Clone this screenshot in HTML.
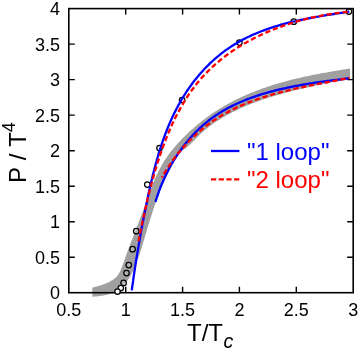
<!DOCTYPE html><html><head><meta charset="utf-8"><title>plot</title><style>
html,body{margin:0;padding:0;background:#fff}
body{width:360px;height:349px;position:relative;overflow:hidden;font-family:"Liberation Sans",sans-serif;color:#000}
.t{position:absolute;white-space:nowrap;line-height:1}
#w{position:absolute;left:0;top:0;width:360px;height:349px;will-change:transform}
.yt{font-size:18px;text-align:right;width:60px;left:0;height:18px;margin-top:-8.3px}
.yt span{display:inline-block}
.xt{font-size:18px;text-align:center;width:60px;margin-left:-30px;top:300.5px}
.leg{font-size:24px;left:247px}
</style></head><body><div id="w">
<svg width="360" height="349" viewBox="0 0 360 349" style="position:absolute;left:0;top:0">
<path d="M92.3,287.6 L94.0,287.2 L95.7,286.7 L97.5,286.3 L99.3,285.7 L101.1,285.2 L102.9,284.5 L104.8,283.9 L106.6,283.1 L108.3,282.4 L110.0,281.5 L111.6,280.5 L113.2,279.5 L114.6,278.4 L116.0,277.2 L117.2,275.9 L118.2,274.5 L119.2,273.0 L120.1,271.4 L120.8,269.8 L121.5,268.1 L122.2,266.4 L122.8,264.7 L123.4,262.9 L124.1,261.2 L124.7,259.4 L125.3,257.7 L125.9,255.9 L126.5,254.2 L127.2,252.4 L127.8,250.7 L128.5,249.0 L129.1,247.3 L129.8,245.5 L130.4,243.8 L131.1,242.1 L131.7,240.4 L132.4,238.7 L133.1,236.9 L133.7,235.2 L134.4,233.5 L135.1,231.8 L135.7,230.1 L136.4,228.4 L137.0,226.6 L137.7,224.9 L138.4,223.2 L139.0,221.5 L139.7,219.8 L140.3,218.1 L141.0,216.3 L141.6,214.6 L142.3,212.9 L142.9,211.2 L143.5,209.4 L144.1,207.7 L144.8,205.9 L145.4,204.2 L146.0,202.5 L146.6,200.7 L147.2,199.0 L147.9,197.2 L148.5,195.5 L149.1,193.8 L149.7,192.0 L150.4,190.3 L151.0,188.6 L151.7,186.9 L152.4,185.2 L153.0,183.4 L153.7,181.7 L154.5,180.1 L155.2,178.4 L155.9,176.7 L156.7,175.0 L157.5,173.4 L158.3,171.7 L159.1,170.1 L159.9,168.5 L160.8,166.9 L161.7,165.3 L162.6,163.7 L163.6,162.1 L164.5,160.6 L165.5,159.0 L166.6,157.5 L167.6,156.0 L168.7,154.5 L169.8,153.1 L170.9,151.6 L172.1,150.1 L173.3,148.7 L174.4,147.3 L175.6,145.9 L176.9,144.5 L178.1,143.1 L179.4,141.8 L180.6,140.4 L181.9,139.1 L183.2,137.7 L184.5,136.4 L185.8,135.1 L187.2,133.9 L188.5,132.6 L189.9,131.3 L191.2,130.1 L192.6,128.9 L194.0,127.6 L195.4,126.4 L196.8,125.3 L198.2,124.1 L199.6,122.9 L201.1,121.8 L202.5,120.6 L204.0,119.5 L205.4,118.4 L206.9,117.3 L208.4,116.2 L209.9,115.2 L211.4,114.1 L212.9,113.1 L214.5,112.1 L216.0,111.1 L217.5,110.1 L219.1,109.1 L220.7,108.1 L222.2,107.2 L223.8,106.3 L225.4,105.3 L227.0,104.4 L228.6,103.5 L230.2,102.7 L231.8,101.8 L233.5,101.0 L235.1,100.1 L236.7,99.3 L238.4,98.5 L240.0,97.7 L241.7,96.9 L243.4,96.2 L245.1,95.4 L246.7,94.7 L248.4,94.0 L250.1,93.2 L251.8,92.5 L253.5,91.9 L255.3,91.2 L257.0,90.5 L258.7,89.9 L260.4,89.2 L262.2,88.6 L263.9,88.0 L265.7,87.4 L267.4,86.8 L269.2,86.2 L270.9,85.7 L272.7,85.1 L274.4,84.5 L276.2,84.0 L278.0,83.5 L279.8,83.0 L281.6,82.4 L283.3,81.9 L285.1,81.5 L286.9,81.0 L288.7,80.5 L290.5,80.0 L292.3,79.6 L294.1,79.1 L295.9,78.7 L297.7,78.3 L299.5,77.9 L301.3,77.4 L303.1,77.0 L304.9,76.6 L306.7,76.2 L308.5,75.9 L310.4,75.5 L312.2,75.1 L314.0,74.7 L315.8,74.4 L317.6,74.0 L319.4,73.7 L321.2,73.3 L323.0,73.0 L324.9,72.7 L326.7,72.4 L328.5,72.0 L330.3,71.7 L332.1,71.4 L333.9,71.1 L335.7,70.8 L337.5,70.5 L339.3,70.2 L341.1,69.9 L342.9,69.6 L344.7,69.4 L346.5,69.1 L348.3,68.8 L350.1,68.5 L350.1,78.3 L348.3,78.7 L346.5,79.1 L344.7,79.5 L342.9,79.9 L341.1,80.3 L339.3,80.6 L337.5,81.0 L335.7,81.4 L333.9,81.8 L332.1,82.1 L330.3,82.5 L328.5,82.9 L326.7,83.3 L324.9,83.7 L323.0,84.0 L321.2,84.4 L319.4,84.8 L317.6,85.2 L315.8,85.6 L314.0,86.0 L312.1,86.4 L310.3,86.8 L308.5,87.2 L306.7,87.6 L304.9,88.0 L303.0,88.4 L301.2,88.8 L299.4,89.3 L297.6,89.7 L295.8,90.1 L294.0,90.6 L292.2,91.0 L290.4,91.5 L288.6,92.0 L286.8,92.4 L285.0,92.9 L283.2,93.4 L281.4,93.9 L279.6,94.4 L277.8,94.9 L276.0,95.4 L274.2,95.9 L272.4,96.5 L270.7,97.0 L268.9,97.6 L267.1,98.2 L265.3,98.7 L263.6,99.3 L261.8,99.9 L260.1,100.5 L258.3,101.2 L256.6,101.8 L254.9,102.4 L253.1,103.1 L251.4,103.8 L249.7,104.4 L248.0,105.1 L246.3,105.8 L244.6,106.6 L242.9,107.3 L241.2,108.1 L239.5,108.8 L237.8,109.6 L236.2,110.4 L234.5,111.2 L232.9,112.0 L231.2,112.9 L229.6,113.7 L228.0,114.6 L226.3,115.5 L224.7,116.4 L223.1,117.3 L221.5,118.3 L220.0,119.2 L218.4,120.2 L216.8,121.2 L215.3,122.3 L213.8,123.3 L212.2,124.4 L210.7,125.5 L209.3,126.6 L207.8,127.7 L206.3,128.9 L204.9,130.1 L203.5,131.3 L202.1,132.5 L200.8,133.8 L199.4,135.1 L198.1,136.4 L196.8,137.8 L195.5,139.1 L194.2,140.4 L192.9,141.8 L191.6,143.1 L190.3,144.3 L188.9,145.6 L187.5,146.8 L186.1,147.9 L184.6,149.0 L183.2,150.1 L181.7,151.2 L180.4,152.4 L179.2,153.7 L178.0,155.0 L176.9,156.4 L175.8,157.9 L174.9,159.5 L173.9,161.0 L173.0,162.7 L172.2,164.3 L171.4,166.0 L170.6,167.7 L169.8,169.4 L169.0,171.1 L168.2,172.8 L167.4,174.5 L166.6,176.2 L165.8,177.9 L165.1,179.6 L164.3,181.3 L163.6,183.0 L162.8,184.7 L162.1,186.4 L161.3,188.1 L160.6,189.8 L159.9,191.5 L159.2,193.2 L158.6,195.0 L157.9,196.7 L157.2,198.4 L156.6,200.1 L156.0,201.9 L155.3,203.6 L154.7,205.4 L154.1,207.1 L153.5,208.9 L153.0,210.6 L152.4,212.4 L151.8,214.1 L151.3,215.9 L150.7,217.7 L150.1,219.4 L149.6,221.2 L149.1,223.0 L148.5,224.7 L148.0,226.5 L147.4,228.3 L146.9,230.1 L146.4,231.9 L145.9,233.6 L145.3,235.4 L144.8,237.2 L144.3,239.0 L143.7,240.8 L143.2,242.6 L142.7,244.4 L142.1,246.2 L141.6,247.9 L141.0,249.7 L140.5,251.5 L139.9,253.3 L139.3,255.0 L138.7,256.8 L138.1,258.5 L137.4,260.3 L136.8,262.0 L136.1,263.7 L135.5,265.4 L134.8,267.1 L134.0,268.8 L133.3,270.5 L132.5,272.1 L131.7,273.7 L130.8,275.3 L129.9,276.9 L128.9,278.4 L127.8,279.9 L126.7,281.3 L125.5,282.7 L124.1,284.1 L122.8,285.4 L121.3,286.7 L119.9,287.9 L118.4,289.1 L116.9,290.2 L115.4,291.2 L113.9,292.2 L112.3,293.0 L110.6,293.7 L108.9,294.3 L107.2,294.7 L105.4,295.1 L103.6,295.5 L101.7,295.7 L99.9,296.0 L98.0,296.2 L96.1,296.4 L94.2,296.6 L92.4,296.8Z" fill="#a0a0a0"/>
<rect x="68.8" y="8.6" width="284.4" height="284.1" fill="none" stroke="#000" stroke-width="1.6"/>
<path d="M125.7,292.7 v-6 M125.7,8.6 v6 M182.6,292.7 v-6 M182.6,8.6 v6 M239.4,292.7 v-6 M239.4,8.6 v6 M296.3,292.7 v-6 M296.3,8.6 v6 M68.8,257.2 h6 M353.2,257.2 h-6 M68.8,221.7 h6 M353.2,221.7 h-6 M68.8,186.2 h6 M353.2,186.2 h-6 M68.8,150.7 h6 M353.2,150.7 h-6 M68.8,115.1 h6 M353.2,115.1 h-6 M68.8,79.6 h6 M353.2,79.6 h-6 M68.8,44.1 h6 M353.2,44.1 h-6" stroke="#000" stroke-width="1.4" fill="none"/>
<circle cx="348.9" cy="11.5" r="2.75" fill="#fff" fill-opacity="0.2" stroke="#000" stroke-width="1.25"/>
<circle cx="293.8" cy="21.7" r="2.75" fill="#fff" fill-opacity="0.2" stroke="#000" stroke-width="1.25"/>
<circle cx="239.4" cy="42.5" r="2.75" fill="#fff" fill-opacity="0.2" stroke="#000" stroke-width="1.25"/>
<circle cx="182.1" cy="100.1" r="2.75" fill="#fff" fill-opacity="0.2" stroke="#000" stroke-width="1.25"/>
<circle cx="159.5" cy="148" r="2.75" fill="#fff" fill-opacity="0.2" stroke="#000" stroke-width="1.25"/>
<circle cx="147.3" cy="184.6" r="2.75" fill="#fff" fill-opacity="0.2" stroke="#000" stroke-width="1.25"/>
<circle cx="136.3" cy="231.2" r="2.75" fill="#fff" fill-opacity="0.2" stroke="#000" stroke-width="1.25"/>
<circle cx="132.6" cy="249.2" r="2.75" fill="#fff" fill-opacity="0.2" stroke="#000" stroke-width="1.25"/>
<circle cx="128.8" cy="265.1" r="2.75" fill="#fff" fill-opacity="0.2" stroke="#000" stroke-width="1.25"/>
<circle cx="126.5" cy="273.1" r="2.75" fill="#fff" fill-opacity="0.2" stroke="#000" stroke-width="1.25"/>
<circle cx="123.6" cy="282.9" r="2.75" fill="#fff" fill-opacity="0.2" stroke="#000" stroke-width="1.25"/>
<circle cx="120.8" cy="288" r="2.75" fill="#fff" fill-opacity="1" stroke="#000" stroke-width="1.25"/>
<circle cx="117.5" cy="291.5" r="2.75" fill="#fff" fill-opacity="1" stroke="#000" stroke-width="1.25"/>
<path d="M131.7,290.3 L132.0,288.3 L132.3,286.4 L132.6,284.4 L132.9,282.4 L133.2,280.4 L133.4,278.4 L133.7,276.4 L134.0,274.5 L134.3,272.5 L134.6,270.5 L134.9,268.6 L135.2,266.6 L135.5,264.6 L135.8,262.7 L136.1,260.7 L136.4,258.8 L136.8,256.8 L137.1,254.8 L137.4,252.9 L137.7,250.9 L138.0,249.0 L138.4,247.0 L138.7,245.1 L139.0,243.1 L139.4,241.2 L139.7,239.2 L140.1,237.3 L140.4,235.4 L140.7,233.4 L141.1,231.5 L141.4,229.5 L141.8,227.6 L142.2,225.6 L142.5,223.7 L142.9,221.7 L143.3,219.8 L143.6,217.9 L144.0,215.9 L144.4,214.0 L144.8,212.0 L145.2,210.1 L145.6,208.1 L146.0,206.2 L146.4,204.2 L146.8,202.3 L147.2,200.3 L147.6,198.4 L148.0,196.4 L148.4,194.5 L148.8,192.5 L149.3,190.6 L149.7,188.6 L150.1,186.7 L150.6,184.7 L151.0,182.8 L151.5,180.8 L152.0,178.8 L152.4,176.9 L152.9,174.9 L153.4,173.0 L153.9,171.1 L154.4,169.1 L154.9,167.2 L155.4,165.2 L155.9,163.3 L156.5,161.4 L157.0,159.4 L157.6,157.5 L158.1,155.6 L158.7,153.6 L159.3,151.7 L159.9,149.8 L160.5,147.9 L161.1,146.0 L161.7,144.1 L162.4,142.2 L163.0,140.3 L163.7,138.4 L164.4,136.6 L165.1,134.7 L165.8,132.8 L166.5,131.0 L167.2,129.1 L168.0,127.3 L168.7,125.4 L169.5,123.6 L170.3,121.8 L171.1,120.0 L171.9,118.2 L172.7,116.4 L173.6,114.6 L174.5,112.8 L175.4,111.0 L176.3,109.2 L177.2,107.5 L178.1,105.7 L179.1,104.0 L180.0,102.3 L181.0,100.6 L182.0,98.8 L183.1,97.2 L184.1,95.5 L185.2,93.8 L186.2,92.1 L187.3,90.5 L188.5,88.8 L189.6,87.2 L190.8,85.6 L191.9,84.0 L193.1,82.4 L194.3,80.8 L195.6,79.3 L196.8,77.7 L198.1,76.2 L199.3,74.7 L200.6,73.2 L202.0,71.7 L203.3,70.3 L204.6,68.8 L206.0,67.4 L207.4,66.0 L208.8,64.6 L210.2,63.2 L211.7,61.8 L213.1,60.5 L214.6,59.2 L216.1,57.9 L217.6,56.6 L219.1,55.4 L220.6,54.1 L222.2,52.9 L223.8,51.7 L225.3,50.5 L227.0,49.4 L228.6,48.3 L230.2,47.1 L231.9,46.1 L233.5,45.0 L235.2,44.0 L236.9,43.0 L238.6,42.0 L240.3,41.0 L242.1,40.1 L243.8,39.1 L245.6,38.2 L247.4,37.3 L249.2,36.5 L251.0,35.6 L252.8,34.8 L254.6,34.0 L256.5,33.2 L258.3,32.5 L260.2,31.7 L262.0,31.0 L263.9,30.3 L265.8,29.6 L267.7,28.9 L269.5,28.3 L271.4,27.7 L273.4,27.0 L275.3,26.4 L277.2,25.9 L279.1,25.3 L281.0,24.7 L283.0,24.2 L284.9,23.7 L286.9,23.2 L288.8,22.7 L290.8,22.2 L292.7,21.7 L294.7,21.3 L296.6,20.8 L298.6,20.4 L300.6,20.0 L302.5,19.6 L304.5,19.2 L306.5,18.8 L308.4,18.4 L310.4,18.0 L312.4,17.6 L314.3,17.3 L316.3,16.9 L318.3,16.6 L320.2,16.2 L322.2,15.9 L324.2,15.6 L326.1,15.2 L328.1,14.9 L330.0,14.6 L332.0,14.3 L333.9,14.0 L335.9,13.7 L337.8,13.4 L339.7,13.1 L341.6,12.8 L343.6,12.5 L345.5,12.2 L347.4,11.9 L349.3,11.5" fill="none" stroke="#0000ff" stroke-width="2.3"/>
<path d="M155.4,202.0 L155.8,200.8 L156.1,199.6 L156.5,198.5 L156.9,197.3 L157.3,196.1 L157.7,195.0 L158.1,193.8 L158.5,192.6 L158.9,191.4 L159.3,190.3 L159.8,189.1 L160.2,188.0 L160.7,186.8 L161.1,185.6 L161.6,184.5 L162.1,183.3 L162.6,182.2 L163.1,181.0 L163.6,179.9 L164.1,178.8 L164.6,177.6 L165.1,176.5 L165.7,175.4 L166.2,174.2 L166.8,173.1 L167.4,172.0 L167.9,170.9 L168.5,169.7 L169.1,168.6 L169.7,167.5 L170.3,166.4 L170.9,165.3 L171.5,164.2 L172.2,163.2 L172.8,162.1 L173.4,161.0 L174.1,159.9 L174.8,158.8 L175.4,157.8 L176.1,156.7 L176.8,155.7 L177.5,154.6 L178.2,153.6 L178.9,152.5 L179.6,151.5 L180.3,150.5 L181.1,149.5 L181.8,148.5 L182.5,147.5 L183.3,146.5 L184.1,145.5 L184.8,144.5 L185.6,143.5 L186.4,142.5 L187.2,141.6 L188.0,140.6 L188.8,139.6 L189.6,138.7 L190.4,137.8 L191.3,136.8 L192.1,135.9 L192.9,135.0 L193.8,134.1 L194.6,133.2 L195.5,132.3 L196.4,131.4 L197.3,130.6 L198.2,129.7 L199.0,128.8 L199.9,128.0 L200.9,127.2 L201.8,126.3 L202.7,125.5 L203.6,124.7 L204.6,123.9 L205.5,123.1 L206.5,122.3 L207.4,121.6 L208.4,120.8 L209.4,120.0 L210.3,119.3 L211.3,118.6 L212.3,117.8 L213.3,117.1 L214.3,116.4 L215.3,115.7 L216.3,115.1 L217.4,114.4 L218.4,113.7 L219.4,113.1 L220.5,112.4 L221.5,111.8 L222.6,111.1 L223.6,110.5 L224.7,109.9 L225.8,109.3 L226.8,108.7 L227.9,108.1 L229.0,107.5 L230.1,107.0 L231.2,106.4 L232.3,105.9 L233.4,105.3 L234.5,104.8 L235.6,104.2 L236.7,103.7 L237.9,103.2 L239.0,102.7 L240.1,102.2 L241.3,101.7 L242.4,101.2 L243.6,100.7 L244.7,100.3 L245.9,99.8 L247.0,99.4 L248.2,98.9 L249.3,98.5 L250.5,98.0 L251.7,97.6 L252.9,97.2 L254.0,96.8 L255.2,96.4 L256.4,96.0 L257.6,95.6 L258.8,95.2 L260.0,94.8 L261.2,94.4 L262.4,94.0 L263.6,93.7 L264.8,93.3 L266.0,93.0 L267.2,92.6 L268.4,92.3 L269.6,91.9 L270.8,91.6 L272.1,91.3 L273.3,91.0 L274.5,90.7 L275.7,90.3 L277.0,90.0 L278.2,89.7 L279.4,89.5 L280.6,89.2 L281.9,88.9 L283.1,88.6 L284.3,88.3 L285.6,88.1 L286.8,87.8 L288.0,87.5 L289.3,87.3 L290.5,87.0 L291.8,86.8 L293.0,86.5 L294.2,86.3 L295.5,86.0 L296.7,85.8 L298.0,85.6 L299.2,85.4 L300.5,85.1 L301.7,84.9 L302.9,84.7 L304.2,84.5 L305.4,84.3 L306.7,84.1 L307.9,83.9 L309.1,83.7 L310.4,83.5 L311.6,83.3 L312.9,83.1 L314.1,82.9 L315.3,82.7 L316.6,82.5 L317.8,82.4 L319.0,82.2 L320.3,82.0 L321.5,81.8 L322.7,81.7 L323.9,81.5 L325.2,81.3 L326.4,81.2 L327.6,81.0 L328.8,80.8 L330.1,80.7 L331.3,80.5 L332.5,80.4 L333.7,80.2 L334.9,80.1 L336.1,79.9 L337.3,79.8 L338.5,79.6 L339.7,79.5 L340.9,79.3 L342.1,79.2 L343.3,79.0 L344.5,78.9 L345.7,78.7 L346.8,78.6 L348.0,78.4 L349.2,78.3" fill="none" stroke="#0000ff" stroke-width="2.3"/>
<path d="M138.4,241.3 L138.8,239.7 L139.1,238.0 L139.5,236.3 L139.8,234.6 L140.2,232.9 L140.5,231.3 L140.9,229.6 L141.2,227.9 L141.6,226.2 L141.9,224.6 L142.3,222.9 L142.6,221.2 L143.0,219.5 L143.4,217.9 L143.7,216.2 L144.1,214.5 L144.5,212.8 L144.8,211.2 L145.2,209.5 L145.6,207.8 L146.0,206.2 L146.4,204.5 L146.8,202.8 L147.2,201.1 L147.5,199.5 L147.9,197.8 L148.4,196.1 L148.8,194.5 L149.2,192.8 L149.6,191.1 L150.0,189.5 L150.4,187.8 L150.9,186.1 L151.3,184.5 L151.8,182.8 L152.2,181.1 L152.7,179.5 L153.1,177.8 L153.6,176.2 L154.0,174.5 L154.5,172.8 L155.0,171.2 L155.5,169.5 L156.0,167.9 L156.5,166.2 L157.0,164.6 L157.5,162.9 L158.1,161.2 L158.6,159.6 L159.1,157.9 L159.7,156.3 L160.2,154.6 L160.8,153.0 L161.4,151.4 L161.9,149.7 L162.5,148.1 L163.1,146.4 L163.7,144.8 L164.3,143.2 L165.0,141.5 L165.6,139.9 L166.2,138.3 L166.9,136.6 L167.5,135.0 L168.2,133.4 L168.9,131.8 L169.6,130.2 L170.3,128.6 L171.0,127.0 L171.7,125.4 L172.4,123.8 L173.2,122.3 L173.9,120.7 L174.7,119.1 L175.4,117.6 L176.2,116.0 L177.0,114.5 L177.8,112.9 L178.6,111.4 L179.5,109.9 L180.3,108.4 L181.1,106.9 L182.0,105.4 L182.9,103.9 L183.8,102.4 L184.7,100.9 L185.6,99.5 L186.5,98.0 L187.4,96.6 L188.4,95.1 L189.3,93.7 L190.3,92.3 L191.3,90.9 L192.3,89.5 L193.3,88.2 L194.3,86.8 L195.4,85.4 L196.4,84.1 L197.5,82.8 L198.6,81.5 L199.7,80.2 L200.8,78.9 L201.9,77.6 L203.1,76.3 L204.2,75.1 L205.4,73.8 L206.6,72.6 L207.8,71.4 L209.0,70.2 L210.2,69.0 L211.4,67.9 L212.7,66.7 L213.9,65.6 L215.2,64.4 L216.5,63.3 L217.8,62.2 L219.1,61.1 L220.4,60.0 L221.7,58.9 L223.1,57.9 L224.4,56.8 L225.8,55.8 L227.2,54.8 L228.5,53.8 L229.9,52.8 L231.3,51.8 L232.8,50.8 L234.2,49.9 L235.6,48.9 L237.1,48.0 L238.5,47.1 L240.0,46.2 L241.4,45.3 L242.9,44.4 L244.4,43.5 L245.9,42.7 L247.4,41.8 L248.9,41.0 L250.4,40.2 L252.0,39.4 L253.5,38.6 L255.0,37.8 L256.6,37.0 L258.2,36.2 L259.7,35.5 L261.3,34.7 L262.9,34.0 L264.4,33.3 L266.0,32.6 L267.6,31.9 L269.2,31.2 L270.8,30.6 L272.4,29.9 L274.1,29.2 L275.7,28.6 L277.3,28.0 L278.9,27.4 L280.6,26.8 L282.2,26.2 L283.9,25.6 L285.5,25.1 L287.2,24.5 L288.8,24.0 L290.5,23.4 L292.1,22.9 L293.8,22.4 L295.5,21.9 L297.1,21.4 L298.8,20.9 L300.5,20.5 L302.2,20.0 L303.9,19.6 L305.5,19.2 L307.2,18.7 L308.9,18.3 L310.6,17.9 L312.3,17.5 L314.0,17.2 L315.7,16.8 L317.3,16.4 L319.0,16.1 L320.7,15.8 L322.4,15.4 L324.1,15.1 L325.8,14.8 L327.5,14.5 L329.2,14.3 L330.9,14.0 L332.6,13.7 L334.2,13.5 L335.9,13.3 L337.6,13.0 L339.3,12.8 L341.0,12.6 L342.7,12.4 L344.3,12.2 L346.0,12.1 L347.7,11.9 L349.3,11.7" fill="none" stroke="#ff0000" stroke-width="2.3" stroke-dasharray="5.2 2.8"/>
<path d="M161.8,177.5 L162.4,176.6 L162.9,175.6 L163.5,174.6 L164.1,173.7 L164.6,172.7 L165.2,171.8 L165.8,170.8 L166.4,169.9 L167.0,168.9 L167.6,168.0 L168.2,167.0 L168.8,166.1 L169.5,165.2 L170.1,164.3 L170.7,163.3 L171.4,162.4 L172.0,161.5 L172.7,160.6 L173.3,159.7 L174.0,158.8 L174.7,157.9 L175.3,157.0 L176.0,156.1 L176.7,155.2 L177.4,154.4 L178.1,153.5 L178.8,152.6 L179.5,151.8 L180.2,150.9 L181.0,150.1 L181.7,149.2 L182.4,148.4 L183.2,147.5 L183.9,146.7 L184.6,145.9 L185.4,145.0 L186.2,144.2 L186.9,143.4 L187.7,142.6 L188.5,141.8 L189.2,141.0 L190.0,140.2 L190.8,139.4 L191.6,138.6 L192.4,137.9 L193.2,137.1 L194.0,136.3 L194.8,135.6 L195.7,134.8 L196.5,134.1 L197.3,133.3 L198.1,132.6 L199.0,131.8 L199.8,131.1 L200.7,130.4 L201.5,129.7 L202.4,129.0 L203.2,128.3 L204.1,127.6 L205.0,126.9 L205.9,126.2 L206.7,125.6 L207.6,124.9 L208.5,124.2 L209.4,123.6 L210.3,122.9 L211.2,122.3 L212.1,121.6 L213.0,121.0 L213.9,120.4 L214.8,119.8 L215.8,119.2 L216.7,118.6 L217.6,118.0 L218.5,117.4 L219.5,116.8 L220.4,116.2 L221.4,115.7 L222.3,115.1 L223.3,114.5 L224.2,114.0 L225.2,113.5 L226.2,112.9 L227.1,112.4 L228.1,111.9 L229.1,111.4 L230.0,110.8 L231.0,110.3 L232.0,109.8 L233.0,109.4 L234.0,108.9 L235.0,108.4 L236.0,107.9 L237.0,107.4 L238.0,107.0 L239.0,106.5 L240.0,106.1 L241.0,105.6 L242.0,105.2 L243.0,104.8 L244.1,104.3 L245.1,103.9 L246.1,103.5 L247.1,103.1 L248.2,102.7 L249.2,102.3 L250.2,101.9 L251.3,101.5 L252.3,101.1 L253.4,100.7 L254.4,100.3 L255.5,99.9 L256.5,99.6 L257.6,99.2 L258.6,98.8 L259.7,98.5 L260.7,98.1 L261.8,97.8 L262.9,97.4 L263.9,97.1 L265.0,96.8 L266.1,96.4 L267.1,96.1 L268.2,95.8 L269.3,95.4 L270.3,95.1 L271.4,94.8 L272.5,94.5 L273.6,94.2 L274.7,93.9 L275.7,93.6 L276.8,93.3 L277.9,93.0 L279.0,92.7 L280.1,92.4 L281.2,92.2 L282.2,91.9 L283.3,91.6 L284.4,91.3 L285.5,91.0 L286.6,90.8 L287.7,90.5 L288.8,90.3 L289.9,90.0 L291.0,89.7 L292.1,89.5 L293.2,89.2 L294.3,89.0 L295.4,88.7 L296.5,88.5 L297.6,88.2 L298.7,88.0 L299.8,87.8 L300.9,87.5 L301.9,87.3 L303.0,87.1 L304.1,86.8 L305.2,86.6 L306.3,86.4 L307.4,86.1 L308.5,85.9 L309.6,85.7 L310.7,85.5 L311.8,85.2 L312.9,85.0 L314.0,84.8 L315.1,84.6 L316.2,84.4 L317.3,84.2 L318.4,83.9 L319.5,83.7 L320.6,83.5 L321.7,83.3 L322.8,83.1 L323.9,82.9 L325.0,82.7 L326.0,82.5 L327.1,82.3 L328.2,82.1 L329.3,81.9 L330.4,81.7 L331.5,81.4 L332.6,81.2 L333.6,81.0 L334.7,80.8 L335.8,80.6 L336.9,80.4 L338.0,80.2 L339.0,80.0 L340.1,79.8 L341.2,79.6 L342.2,79.4 L343.3,79.2 L344.4,79.0 L345.4,78.8 L346.5,78.6 L347.6,78.3 L348.6,78.1 L349.7,77.9" fill="none" stroke="#ff0000" stroke-width="2.3" stroke-dasharray="1.5 2.5 5.2 2.8 5.2 2.8 5.2 2.8 5.2 2.8 5.2 2.8 5.2 2.8 5.2 2.8 5.2 2.8 5.2 2.8 5.2 2.8 5.2 2.8 5.2 2.8 5.2 2.8 5.2 2.8 5.2 2.8 5.2 2.8 5.2 2.8 5.2 2.8 5.2 2.8 5.2 2.8 5.2 2.8 5.2 2.8 5.2 2.8 5.2 2.8 5.2 2.8 5.2 2.8 5.2 2.8 5.2 2.8 5.2 2.8"/>
<path d="M211,151 H239.4" stroke="#0000ff" stroke-width="2.3" fill="none"/>
<path d="M211,179.3 H239.4" stroke="#ff0000" stroke-width="2.3" stroke-dasharray="5.2 2.5" fill="none"/>
</svg>
<div class="t yt" style="top:292.7px">0</div>
<div class="t yt" style="top:257.2px">0.5</div>
<div class="t yt" style="top:221.7px">1</div>
<div class="t yt" style="top:186.2px">1.5</div>
<div class="t yt" style="top:150.7px">2</div>
<div class="t yt" style="top:115.1px">2.5</div>
<div class="t yt" style="top:79.6px">3</div>
<div class="t yt" style="top:44.1px">3.5</div>
<div class="t yt" style="top:8.6px">4</div>
<div class="t xt" style="left:68.8px">0.5</div>
<div class="t xt" style="left:125.7px">1</div>
<div class="t xt" style="left:182.6px">1.5</div>
<div class="t xt" style="left:239.4px">2</div>
<div class="t xt" style="left:296.3px">2.5</div>
<div class="t xt" style="left:353.2px">3</div>
<div class="t leg" style="top:139.5px;color:#0000ff">"1 loop"</div>
<div class="t leg" style="top:168px;color:#ff0000">"2 loop"</div>
<div class="t" style="font-size:24px;left:187px;top:321px">T/T<span style="font-size:19.5px;font-style:italic;position:relative;top:6.5px;left:0.5px">c</span></div>
<div class="t" style="font-size:24px;left:5.7px;top:183px;word-spacing:0.5px;transform-origin:0 0;transform:rotate(-90deg)">P / T<span style="font-size:18px;position:relative;top:-11px">4</span></div>
</div></body></html>
